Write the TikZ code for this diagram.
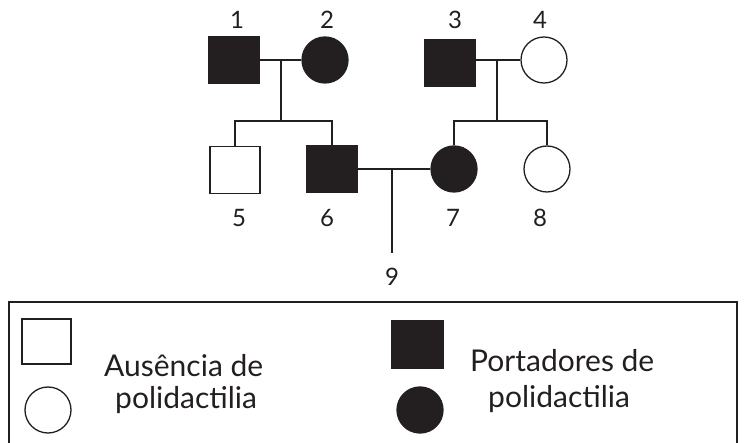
\documentclass[tikz,border=0pt]{standalone}
\usepackage{fontspec}
\setmainfont{Lato}
\usepackage{tikz}
\usetikzlibrary{positioning}
\definecolor{ink}{HTML}{231F20}
\tikzset{
  male/.style={draw=ink,line width=1.3pt,minimum width=50pt,minimum height=47pt,inner sep=0pt},
  female/.style={draw=ink,line width=1.3pt,circle,minimum size=46pt,inner sep=0pt},
  affected/.style={fill=ink},
  idlabel/.style={text=ink,font=\fontsize{24}{26}\selectfont,inner sep=0pt},
  keytext/.style={text=ink,font=\fontsize{30}{32}\selectfont,inner sep=0pt,anchor=base west},
  link/.style={draw=ink,line width=1.3pt}
}
\begin{document}
\begin{tikzpicture}[x=1pt,y=-1pt]
  \useasboundingbox (0,0) rectangle (747,443);
  % first generation
  \node[male,affected] (i1) at (234,60) {};
  \node[female,affected] (i2) at (325,60) {};
  \node[male,affected] (i3) at (450,63) {};
  \node[female] (i4) at (544,60) {};
  % second generation
  \node[male] (i5) at (235,170) {};
  \node[male,affected] (i6) at (332,169) {};
  \node[female,affected] (i7) at (454,169) {};
  \node[female] (i8) at (547,169) {};
  % numbers
  \node[idlabel] (n1) at (237,20) {1};
  \node[idlabel] (n2) at (327,20) {2};
  \node[idlabel] (n3) at (455,20) {3};
  \node[idlabel] (n4) at (540,20) {4};
  \node[idlabel] (n5) at (239,218) {5};
  \node[idlabel] (n6) at (327,218) {6};
  \node[idlabel] (n7) at (453,218) {7};
  \node[idlabel] (n8) at (540,218) {8};
  \node[idlabel] (n9) at (392,277) {9};
  % couples and children
  \coordinate (m12) at (281,60);
  \coordinate (s12) at (281,121);
  \coordinate (m34) at (497,60);
  \coordinate (s34) at (497,121);
  \coordinate (m67) at (392,169);
  \coordinate (c9) at (392,253);
  \draw[link] (i1) -- (i2);
  \draw[link] (i3.east |- i4) -- (i4);
  \draw[link] (i6) -- (i7);
  \draw[link] (m12) -- (s12);
  \draw[link] (m34) -- (s34);
  \draw[link] (i5.north) -- (i5.north |- s12) -- (i6.north |- s12) -- (i6.north);
  \draw[link] (i7.north) -- (i7.north |- s34) -- (i8.north |- s34) -- (i8.north);
  \draw[link] (m67) -- (c9);

  % legend
  \coordinate (kbl) at (9,443);
  \coordinate (kbr) at (737,443);
  \draw[draw=ink,line width=1.2pt] (kbl) |- (737,302) -- (kbr);
  \node[male,minimum width=49pt,minimum height=45pt] (kmale) at (46.5,341.5) {};
  \node[female] (kfemale) at (48,410) {};
  \node[male,affected,minimum width=51pt] (kmaleaff) at (417.5,344.5) {};
  \node[female,affected] (kfemaleaff) at (420,410) {};
  \node[keytext] (kabs1) at (104,377) {Ausência de};
  \node[keytext] (kabs2) at (115,409) {polidactilia};
  \node[keytext] (kcar1) at (470,372) {Portadores de};
  \node[keytext] (kcar2) at (488,408) {polidactilia};
\end{tikzpicture}
\end{document}
